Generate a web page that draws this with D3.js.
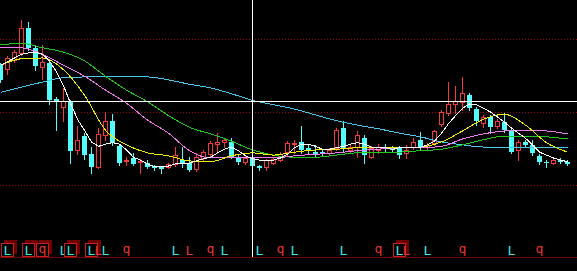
<!DOCTYPE html>
<meta charset="UTF-8">

<head>
    <script src="https://d3js.org/d3.v7.min.js"></script>
    <style>
        body {
            margin: 0;
            background: #000;
        }

        svg {
            display: block;
            shape-rendering: crispEdges;
        }

        .grid {
            stroke: #a00000;
            stroke-dasharray: 1, 2;
        }

        .ma {
            fill: none;
            stroke-width: 1px;
        }

        .sig text {
            font: 13px "DejaVu Sans Mono", monospace;
        }
    </style>
</head>

<body>

    <script>
        // daily candles (price units arbitrary)
        var open = [11.64, 11.59, 11.71, 11.81, 12.15, 11.88, 11.62, 11.67, 11.18, 11.07,
            11.14, 10.48, 10.67, 10.42, 10.25, 10.68, 10.88, 10.53, 10.33, 10.37,
            10.32, 10.30, 10.26, 10.25, 10.25, 10.29, 10.34, 10.30, 10.22, 10.37,
            10.42, 10.56, 10.59, 10.59, 10.38, 10.32, 10.37, 10.26, 10.25, 10.30,
            10.34, 10.45, 10.56, 10.59, 10.51, 10.45, 10.45, 10.44, 10.51, 10.78,
            10.48, 10.52, 10.64, 10.38, 10.48, 10.52, 10.52, 10.52, 10.44, 10.52,
            10.62, 10.52, 10.58, 10.84, 10.99, 11.11, 11.14, 11.23, 11.04, 10.85,
            10.93, 10.81, 10.86, 10.75, 10.48, 10.59, 10.55, 10.40, 10.32, 10.30,
            10.34, 10.32];
        var close = [11.44, 11.74, 11.82, 12.15, 11.88, 11.63, 11.68, 11.16, 11.14, 11.15,
            10.47, 10.62, 10.41, 10.25, 10.70, 10.88, 10.58, 10.30, 10.34, 10.29,
            10.33, 10.25, 10.23, 10.22, 10.29, 10.41, 10.30, 10.21, 10.38, 10.45,
            10.58, 10.59, 10.62, 10.38, 10.32, 10.37, 10.26, 10.23, 10.34, 10.36,
            10.42, 10.58, 10.58, 10.48, 10.48, 10.41, 10.44, 10.48, 10.75, 10.51,
            10.52, 10.68, 10.41, 10.51, 10.52, 10.51, 10.48, 10.41, 10.48, 10.59,
            10.52, 10.55, 10.74, 11.00, 11.11, 11.15, 11.26, 11.05, 10.88, 10.93,
            10.79, 10.88, 10.75, 10.45, 10.59, 10.55, 10.44, 10.32, 10.30, 10.34,
            10.32, 10.29];
        var high = [11.67, 11.77, 11.85, 12.26, 12.23, 11.92, 11.92, 11.71, 11.20, 11.33,
            11.16, 10.81, 10.71, 10.52, 10.78, 11.00, 10.97, 10.56, 10.38, 10.44,
            10.36, 10.34, 10.27, 10.26, 10.30, 10.52, 10.52, 10.38, 10.44, 10.48,
            10.60, 10.71, 10.64, 10.64, 10.41, 10.40, 10.40, 10.27, 10.36, 10.37,
            10.45, 10.60, 10.62, 10.81, 10.55, 10.55, 10.48, 10.51, 10.78, 10.88,
            10.56, 10.74, 10.68, 10.53, 10.56, 10.56, 10.53, 10.53, 10.55, 10.64,
            10.73, 10.58, 10.75, 11.03, 11.41, 11.36, 11.48, 11.26, 11.07, 10.96,
            10.96, 10.90, 10.99, 10.78, 10.62, 10.62, 10.62, 10.42, 10.34, 10.36,
            10.37, 10.34];
        var low = [11.41, 11.52, 11.68, 11.78, 11.85, 11.58, 11.45, 11.11, 10.75, 10.88,
            10.30, 10.42, 10.36, 10.16, 10.23, 10.62, 10.55, 10.27, 10.27, 10.27,
            10.16, 10.23, 10.21, 10.16, 10.23, 10.26, 10.25, 10.19, 10.19, 10.34,
            10.40, 10.44, 10.52, 10.37, 10.29, 10.29, 10.23, 10.21, 10.21, 10.29,
            10.33, 10.41, 10.44, 10.44, 10.42, 10.38, 10.41, 10.41, 10.48, 10.45,
            10.44, 10.38, 10.30, 10.37, 10.44, 10.45, 10.45, 10.37, 10.37, 10.49,
            10.49, 10.49, 10.55, 10.81, 10.96, 10.99, 11.03, 11.03, 10.82, 10.79,
            10.71, 10.78, 10.73, 10.44, 10.34, 10.52, 10.41, 10.29, 10.25, 10.29,
            10.30, 10.27];

        // MA5 read at every candle
        var ma5 = [11.64, 11.69, 11.74, 11.79, 11.81, 11.82, 11.79, 11.70, 11.55, 11.36,
            11.12, 10.90, 10.75, 10.59, 10.53, 10.56, 10.58, 10.56, 10.48, 10.38,
            10.34, 10.29, 10.25, 10.25, 10.26, 10.29, 10.30, 10.30, 10.33, 10.36,
            10.38, 10.44, 10.49, 10.52, 10.47, 10.40, 10.36, 10.34, 10.34, 10.34,
            10.37, 10.42, 10.51, 10.56, 10.56, 10.53, 10.49, 10.49, 10.51, 10.53,
            10.56, 10.58, 10.56, 10.52, 10.51, 10.51, 10.49, 10.51, 10.51, 10.52,
            10.52, 10.55, 10.60, 10.71, 10.84, 10.95, 11.05, 11.11, 11.10, 11.05,
            11.00, 10.93, 10.86, 10.78, 10.71, 10.64, 10.55, 10.45, 10.41, 10.37,
            10.34, 10.32];

        // slower averages read every third candle
        var maIndex = [0, 3, 6, 9, 12, 15, 18, 21, 24, 27, 30, 33, 36, 39, 42, 45, 48, 51, 54, 57, 60, 63, 66, 69, 72, 75, 78, 81];
        var ma10 = [11.64, 11.73, 11.74, 11.58, 11.23, 10.75, 10.55, 10.44, 10.40, 10.33, 10.32, 10.40, 10.44, 10.41,
            10.45, 10.48, 10.49, 10.51, 10.51, 10.51, 10.52, 10.59, 10.74, 10.90, 10.97, 10.82, 10.58, 10.45];
        var ma20 = [11.89, 11.88, 11.79, 11.64, 11.49, 11.30, 11.12, 10.89, 10.71, 10.47, 10.37, 10.37, 10.37, 10.37,
            10.40, 10.42, 10.44, 10.47, 10.49, 10.51, 10.51, 10.53, 10.63, 10.70, 10.74, 10.75, 10.74, 10.70];
        var ma30 = [11.92, 11.94, 11.88, 11.82, 11.70, 11.49, 11.30, 11.14, 10.95, 10.79, 10.70, 10.60, 10.48, 10.41,
            10.38, 10.38, 10.41, 10.44, 10.44, 10.45, 10.47, 10.49, 10.55, 10.62, 10.67, 10.67, 10.66, 10.63];
        var ma60 = [11.27, 11.34, 11.41, 11.47, 11.48, 11.48, 11.48, 11.48, 11.44, 11.38, 11.33, 11.25, 11.16, 11.10,
            11.04, 10.96, 10.88, 10.82, 10.77, 10.71, 10.66, 10.59, 10.55, 10.52, 10.52, 10.52, 10.52, 10.52];

        var gridPrices = [10, 11, 12];
        var crossIndex = 36, crossPrice = 11.15;

        // signal marks in the strip below the chart
        var sigIndex = [1, 4, 6, 9, 10, 13, 14, 15, 18, 25, 27, 30, 32, 37, 40, 42, 49, 54, 57, 58, 61, 66, 73, 77];
        var sigText = ["L", "L", "q", "L", "L", "L", "L", "L", "q", "L", "L", "q", "L", "L", "q", "L", "L", "q", "L", "L", "L", "q", "L", "q"];
        var sigUp = [0, 0, 1, 0, 0, 0, 1, 0, 1, 0, 1, 1, 0, 0, 1, 0, 0, 1, 0, 1, 0, 1, 0, 1];
        var sigBox = [1, 1, 1, 0, 1, 1, 0, 0, 0, 0, 0, 0, 0, 0, 0, 0, 0, 0, 1, 0, 0, 0, 0, 0];

        var width = 577, height = 271;
        var red = "#f03c3c", cyan = "#54fcfc";

        var svg = d3.select("body")
            .append("svg")
            .attr("width", width)
            .attr("height", height);

        svg.append("rect").attr("width", width).attr("height", height).attr("fill", "#000");

        var x = d3.scaleLinear().domain([0, 81]).range([0.5, 567.5]);
        var y = d3.scaleLinear().domain([10, 12]).range([185, 39]);
        function py(v) { return Math.round(y(v)); }

        // dotted price grid
        svg.selectAll("line.grid")
            .data(gridPrices)
            .enter()
            .append("line")
            .attr("class", "grid")
            .attr("x1", 0).attr("x2", width)
            .attr("y1", function (d) { return py(d) + 0.5; })
            .attr("y2", function (d) { return py(d) + 0.5; });

        // bottom border
        svg.append("line")
            .attr("x1", 0).attr("x2", width)
            .attr("y1", 257.5).attr("y2", 257.5)
            .attr("stroke", "#7a0000");

        // ****************** candles ***************************
        var idx = d3.range(open.length);
        var candle = svg.selectAll("g.candle")
            .data(idx)
            .enter()
            .append("g")
            .attr("class", "candle");

        candle.append("line")
            .attr("x1", function (i) { return x(i); })
            .attr("x2", function (i) { return x(i); })
            .attr("y1", function (i) { return py(high[i]); })
            .attr("y2", function (i) { return py(low[i]) + 1; })
            .attr("stroke", function (i) { return close[i] > open[i] ? red : cyan; });

        candle.append("rect")
            .attr("x", function (i) { return close[i] > open[i] ? x(i) - 2 : x(i) - 2.5; })
            .attr("width", function (i) { return close[i] > open[i] ? 4 : 5; })
            .attr("y", function (i) {
                var t = py(Math.max(open[i], close[i]));
                return close[i] > open[i] ? t + 0.5 : t;
            })
            .attr("height", function (i) {
                var h = py(Math.min(open[i], close[i])) - py(Math.max(open[i], close[i]));
                return close[i] > open[i] ? Math.max(h, 0.01) : Math.max(h, 1);
            })
            .attr("fill", function (i) { return close[i] > open[i] ? "#000" : cyan; })
            .attr("stroke", function (i) { return close[i] > open[i] ? red : "none"; });

        // ****************** moving averages ***************************
        var line5 = d3.line()
            .x(function (d, i) { return x(i); })
            .y(function (d) { return y(d); });

        var lineS = d3.line()
            .curve(d3.curveMonotoneX)
            .x(function (d, i) { return x(maIndex[i]); })
            .y(function (d) { return y(d); });

        svg.append("path").attr("class", "ma").attr("stroke", "#48c8ec").attr("d", lineS(ma60));
        svg.append("path").attr("class", "ma").attr("stroke", "#1ec81e").attr("d", lineS(ma30));
        svg.append("path").attr("class", "ma").attr("stroke", "#f07cf0").attr("d", lineS(ma20));
        svg.append("path").attr("class", "ma").attr("stroke", "#f0f000").attr("d", lineS(ma10));
        svg.append("path").attr("class", "ma").attr("stroke", "#ffffff").attr("d", line5(ma5));

        // ****************** signal strip ***************************
        var sig = svg.selectAll("g.sig")
            .data(sigIndex)
            .enter()
            .append("g")
            .attr("class", "sig")
            .attr("transform", function (d) { return "translate(" + Math.floor(x(d)) + ",0)"; });

        sig.filter(function (d, i) { return sigBox[i]; })
            .append("rect")
            .attr("x", -3).attr("y", 240)
            .attr("width", 13).attr("height", 14)
            .attr("fill", "#6e0000");

        sig.filter(function (d, i) { return sigBox[i]; })
            .append("rect")
            .attr("x", -5.5).attr("y", 243.5)
            .attr("width", 12).attr("height", 13)
            .attr("fill", "#000")
            .attr("stroke", "#c82020");

        sig.append("text")
            .attr("x", 0.5)
            .attr("y", function (d, i) { return sigText[i] === "q" ? 253 : 255; })
            .attr("text-anchor", "middle")
            .attr("fill", function (d, i) { return sigUp[i] ? "#e83434" : "#40e8e8"; })
            .text(function (d, i) { return sigText[i]; });

        // ****************** crosshair ***************************
        svg.append("line")
            .attr("x1", 0).attr("x2", width)
            .attr("y1", py(crossPrice) + 0.5).attr("y2", py(crossPrice) + 0.5)
            .attr("stroke", "#fff");

        svg.append("line")
            .attr("x1", x(crossIndex)).attr("x2", x(crossIndex))
            .attr("y1", 0).attr("y2", 257)
            .attr("stroke", "#fff");
    </script>

</body>
